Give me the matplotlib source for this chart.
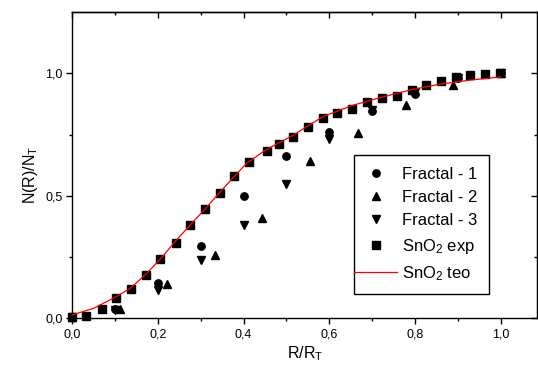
import matplotlib
matplotlib.use("Agg")
import matplotlib.pyplot as plt
from matplotlib.ticker import FixedLocator, FuncFormatter
from matplotlib.legend_handler import HandlerLine2D

plt.rcParams['font.family'] = ['Liberation Sans', 'DejaVu Sans']
plt.rcParams['mathtext.fontset'] = 'custom'
plt.rcParams['mathtext.rm'] = 'Liberation Sans'
plt.rcParams['mathtext.it'] = 'Liberation Sans:italic'
plt.rcParams['mathtext.bf'] = 'Liberation Sans:bold'

# ---- data ----
frac1_x = [0.0, 0.1, 0.2, 0.3, 0.4, 0.5, 0.6, 0.7, 0.8, 0.9, 1.0]
frac1_y = [0.007, 0.040, 0.143, 0.297, 0.498, 0.664, 0.760, 0.846, 0.918, 0.980, 1.000]

frac2_x = [0.0, 0.111, 0.222, 0.333, 0.444, 0.556, 0.667, 0.778, 0.889, 1.0]
frac2_y = [0.007, 0.037, 0.140, 0.259, 0.408, 0.641, 0.758, 0.873, 0.952, 1.000]

frac3_x = [0.0, 0.1, 0.2, 0.3, 0.4, 0.5, 0.6, 0.7, 0.8, 0.9, 1.0]
frac3_y = [0.007, 0.033, 0.116, 0.238, 0.380, 0.547, 0.733, 0.852, 0.925, 0.980, 1.000]

sno2_exp_x = [0.0, 0.033, 0.069, 0.103, 0.137, 0.172, 0.205, 0.241, 0.275, 0.310,
              0.344, 0.378, 0.413, 0.455, 0.482, 0.516, 0.551, 0.585, 0.619, 0.653,
              0.687, 0.722, 0.757, 0.792, 0.826, 0.860, 0.895, 0.929, 0.963, 0.998]
sno2_exp_y = [0.007, 0.010, 0.037, 0.082, 0.120, 0.176, 0.241, 0.309, 0.380, 0.446,
              0.513, 0.582, 0.637, 0.682, 0.710, 0.740, 0.781, 0.820, 0.839, 0.857,
              0.884, 0.899, 0.910, 0.932, 0.954, 0.970, 0.984, 0.993, 0.999, 1.001]

sno2_teo_x = [0.0, 0.05, 0.1, 0.135, 0.17, 0.205, 0.24, 0.275, 0.31, 0.344, 0.379,
              0.407, 0.45, 0.516, 0.585, 0.653, 0.722, 0.792, 0.86, 0.929, 1.0]
sno2_teo_y = [0.014, 0.041, 0.086, 0.122, 0.177, 0.241, 0.313, 0.381, 0.446, 0.514, 0.581,
              0.633, 0.686, 0.748, 0.824, 0.869, 0.903, 0.934, 0.957, 0.973, 0.986]

x_major = [0.0, 0.2, 0.4, 0.6, 0.8, 1.0]
x_minor = [0.1, 0.3, 0.5, 0.7, 0.9]
y_major = [0.0, 0.5, 1.0]
y_minor = [0.25, 0.75]

fig = plt.figure(figsize=(5.38, 3.71), dpi=100)
ax = fig.add_axes([72.3 / 538, 1 - 318.3 / 371, (537 - 72.3) / 538, (318.3 - 12.3) / 371])

ms = 5.3
ax.plot(frac1_x, frac1_y, 'o', color='black', ms=ms, clip_on=False, label='Fractal - 1', zorder=3)
ax.plot(frac2_x, frac2_y, '^', color='black', ms=ms + 0.8, clip_on=False, label='Fractal - 2', zorder=3)
ax.plot(frac3_x, frac3_y, 'v', color='black', ms=ms + 0.8, clip_on=False, label='Fractal - 3', zorder=3)
ax.plot(sno2_exp_x, sno2_exp_y, 's', color='black', ms=ms, clip_on=False, label='SnO$_2$ exp', zorder=3)
ax.plot(sno2_teo_x, sno2_teo_y, '-', color='red', lw=0.9, clip_on=False, label='SnO$_2$ teo', zorder=4)

ax.set_xlim(0, 1.085)
ax.set_ylim(0, 1.25)

fmt = FuncFormatter(lambda v, p: f"{v:.1f}".replace('.', ','))
ax.xaxis.set_major_locator(FixedLocator(x_major))
ax.xaxis.set_minor_locator(FixedLocator(x_minor))
ax.yaxis.set_major_locator(FixedLocator(y_major))
ax.yaxis.set_minor_locator(FixedLocator(y_minor))
ax.xaxis.set_major_formatter(fmt)
ax.yaxis.set_major_formatter(fmt)
ax.tick_params(which='both', direction='out', width=1.0, labelsize=9, colors='black', pad=3)
ax.tick_params(which='major', length=4)
ax.tick_params(which='minor', length=2.2)

for s in ax.spines.values():
    s.set_linewidth(1.0)

# mirrored inward ticks on top and right
top = ax.secondary_xaxis('top')
top.xaxis.set_major_locator(FixedLocator(x_major))
top.xaxis.set_minor_locator(FixedLocator(x_minor))
top.tick_params(which='both', direction='in', labeltop=False, width=1.0)
top.tick_params(which='major', length=4.5)
top.tick_params(which='minor', length=2.4)
top.spines['top'].set_linewidth(1.0)
right = ax.secondary_yaxis('right')
right.yaxis.set_major_locator(FixedLocator(y_major))
right.yaxis.set_minor_locator(FixedLocator(y_minor))
right.tick_params(which='both', direction='in', labelright=False, width=1.0)
right.tick_params(which='major', length=4.5)
right.tick_params(which='minor', length=2.4)

ax.set_xlabel('R/R$_\\mathrm{T}$', fontsize=11.5)
ax.set_ylabel('N(R)/N$_\\mathrm{T}$', fontsize=11.5)
ax.xaxis.set_label_coords(0.5, -0.085)
ax.yaxis.set_label_coords(-0.07, 0.47)

leg_fs = 12
bpad = 0.7


class ExtHandler(HandlerLine2D):
    def create_artists(self, legend, orig_handle, xdescent, ydescent, width, height, fontsize, trans):
        ext = bpad * fontsize
        return super().create_artists(legend, orig_handle, xdescent + ext, ydescent,
                                      width + ext, height, fontsize, trans)


leg = ax.legend(loc='upper left', bbox_to_anchor=((354 - 72.3) / 464.7, (318.3 - 155) / 306),
                borderaxespad=0, fontsize=leg_fs, frameon=True, fancybox=False,
                edgecolor='black', framealpha=1, numpoints=1, handlelength=1.9,
                handletextpad=0.3, borderpad=bpad, labelspacing=0.5,
                handler_map={matplotlib.lines.Line2D: ExtHandler()})
leg.get_frame().set_linewidth(1.0)

fig.savefig('out.png', dpi=100, facecolor='white')
